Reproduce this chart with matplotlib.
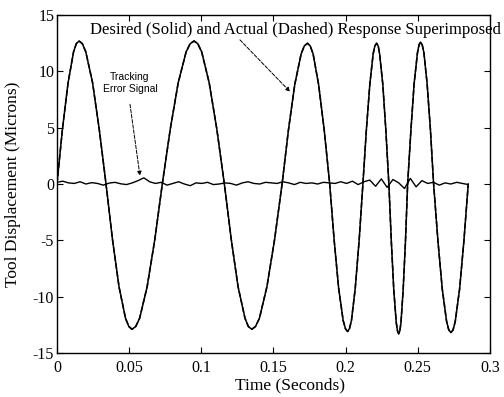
import numpy as np
import matplotlib
matplotlib.use("Agg")
import matplotlib.pyplot as plt

# Desired / actual response (zero crossings, peaks, troughs and in-between points)
resp_t = [0.0, 0.0038, 0.0077, 0.0115, 0.0134, 0.0153, 0.0176, 0.0200, 0.0247, 0.0293,
          0.034, 0.0385, 0.043, 0.0475, 0.0498, 0.052, 0.0546, 0.0573, 0.0625, 0.0678,
          0.073, 0.0785, 0.084, 0.0895, 0.0923, 0.095, 0.0976, 0.1003, 0.1055, 0.1108,
          0.116, 0.1208, 0.1255, 0.1303, 0.1326, 0.135, 0.1376, 0.1403, 0.1455, 0.1508,
          0.156, 0.1604, 0.1648, 0.1692, 0.1714, 0.1736, 0.1755, 0.1775, 0.1813, 0.1852,
          0.189, 0.1921, 0.1952, 0.1983, 0.1999, 0.2014, 0.2027, 0.2041, 0.2067, 0.2094,
          0.212, 0.2144, 0.2168, 0.2191, 0.2203, 0.2215, 0.2226, 0.2236, 0.2258, 0.2279,
          0.230, 0.2317, 0.2334, 0.2351, 0.2360, 0.2368, 0.2376, 0.2384, 0.2399, 0.2415,
          0.243, 0.2453, 0.2475, 0.2498, 0.2509, 0.252, 0.2531, 0.2543, 0.2565, 0.2588,
          0.261, 0.264, 0.267, 0.270, 0.2715, 0.273, 0.2745, 0.276, 0.279, 0.282, 0.285]
resp_y = [0.0, 4.86, 8.98, 11.73, 12.46, 12.7, 12.46, 11.73, 8.98, 4.86,
          0.0, -4.94, -9.12, -11.92, -12.65, -12.9, -12.65, -11.92, -9.12, -4.94,
          0.0, 4.86, 8.98, 11.73, 12.46, 12.7, 12.46, 11.73, 8.98, 4.86,
          0.0, -4.94, -9.12, -11.92, -12.65, -12.9, -12.65, -11.92, -9.12, -4.94,
          0.0, 4.79, 8.84, 11.55, 12.26, 12.5, 12.26, 11.55, 8.84, 4.79,
          0.0, -5.01, -9.26, -12.10, -12.85, -13.1, -12.85, -12.10, -9.26, -5.01,
          0.0, 4.79, 8.84, 11.55, 12.26, 12.5, 12.26, 11.55, 8.84, 4.79,
          0.0, -5.09, -9.40, -12.29, -13.05, -13.3, -13.05, -12.29, -9.40, -5.09,
          0.0, 4.82, 8.91, 11.64, 12.36, 12.6, 12.36, 11.64, 8.91, 4.82,
          0.0, -5.05, -9.33, -12.20, -12.95, -13.2, -12.95, -12.20, -9.33, -5.05, 0.0]

# Tracking error signal (small noise around zero)
err_y = [0.15, 0.25, 0.10, 0.05, 0.20, 0.00, 0.12, 0.05, -0.10, 0.08,
         0.15, 0.02, -0.05, 0.10, 0.30, 0.55, 0.20, 0.05, 0.15, -0.10,
         0.05, 0.20, 0.00, -0.15, 0.10, 0.05, 0.15, -0.05, 0.00, 0.10,
         0.05, -0.10, 0.10, 0.20, 0.05, 0.00, 0.15, 0.10, 0.05, 0.20,
         0.10, -0.05, 0.15, 0.05, 0.10, 0.00, 0.15, 0.10, 0.05, 0.20,
         0.05, 0.25, -0.05, 0.20, 0.35, -0.20, 0.45, -0.30, 0.40, 0.10,
         -0.40, 0.50, -0.25, 0.30, 0.05, 0.15, -0.10, 0.10, 0.00, 0.15,
         0.05, -0.05]
err_t = np.linspace(0.0, 0.285, len(err_y))

x_ticks = [0, 0.05, 0.1, 0.15, 0.2, 0.25, 0.3]
x_ticklabels = ["0", "0.05", "0.1", "0.15", "0.2", "0.25", "0.3"]
y_ticks = [-15, -10, -5, 0, 5, 10, 15]
y_ticklabels = ["-15", "-10", "-5", "0", "5", "10", "15"]

title_note = "Desired (Solid) and Actual (Dashed) Response Superimposed"
err_note = "Tracking\nError Signal"

plt.rcParams['font.family'] = ['Liberation Serif', 'DejaVu Serif']

fig = plt.figure(figsize=(5.04, 3.97), dpi=100)
ax = fig.add_axes([0.113, 0.111, 0.859, 0.851])

ax.plot(resp_t, resp_y, color='black', lw=1.1)
ax.plot(resp_t, resp_y, color='black', lw=1.1, ls='--')
ax.plot(err_t, err_y, color='black', lw=1.0)

ax.set_xlim(0, 0.3)
ax.set_ylim(-15, 15)
ax.set_xticks(x_ticks)
ax.set_xticklabels(x_ticklabels)
ax.set_yticks(y_ticks)
ax.set_yticklabels(y_ticklabels)
ax.tick_params(direction='in', top=True, right=True, length=4, width=0.8,
               labelsize=11.5)
ax.tick_params(axis='x', pad=5)
ax.tick_params(axis='y', pad=2)
for s in ax.spines.values():
    s.set_linewidth(1.0)

ax.set_xlabel("Time (Seconds)", fontsize=12.5)
ax.set_ylabel("Tool Displacement (Microns)", fontsize=12.5)
ax.xaxis.set_label_coords(0.538, -0.072)
ax.yaxis.set_label_coords(-0.082, 0.5)

ax.text(0.0229, 13.7, title_note, ha='left', va='center', fontsize=12)
ax.annotate("", xy=(0.1615, 8.2), xytext=(0.1268, 12.8),
            arrowprops=dict(arrowstyle='-|>', ls='--', lw=0.7, color='black',
                            mutation_scale=6, shrinkA=0, shrinkB=0))

ax.text(0.0506, 8.95, err_note, ha='center', va='center', fontsize=7.5,
        family=['Liberation Sans', 'DejaVu Sans'], linespacing=1.3)
ax.annotate("", xy=(0.0575, 0.74), xytext=(0.0506, 7.08),
            arrowprops=dict(arrowstyle='-|>', ls='--', lw=0.7, color='black',
                            mutation_scale=6, shrinkA=0, shrinkB=0))

fig.savefig("out.png", dpi=100)
